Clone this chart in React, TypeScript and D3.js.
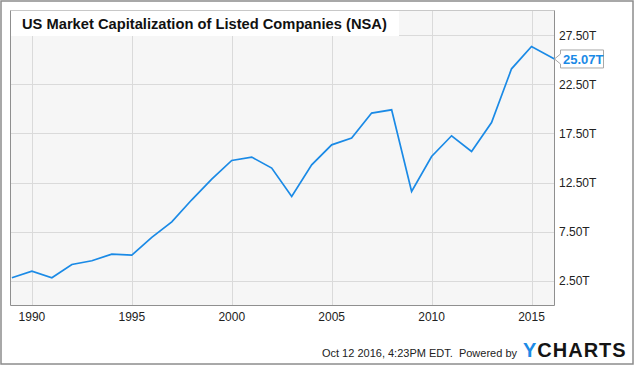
import { useRef, useEffect } from 'react';
import * as d3 from 'd3';

const years = [
  1989, 1990, 1991, 1992, 1993, 1994, 1995, 1996, 1997, 1998, 1999, 2000, 2001, 2002,
  2003, 2004, 2005, 2006, 2007, 2008, 2009, 2010, 2011, 2012, 2013, 2014, 2015, 2016.15,
];
const marketCap = [
  2.82, 3.5, 2.82, 4.17, 4.55, 5.23, 5.13, 6.92, 8.51, 10.75, 12.85, 14.75, 15.09, 13.97,
  11.09, 14.31, 16.34, 17.02, 19.57, 19.9, 11.59, 15.15, 17.26, 15.66, 18.61, 24.07, 26.34, 25.07,
];
const yTicks = [2.5, 7.5, 12.5, 17.5, 22.5, 27.5];
const xTicks = [1990, 1995, 2000, 2005, 2010, 2015];

const title = 'US Market Capitalization of Listed Companies (NSA)';
const footer = 'Oct 12 2016, 4:23PM EDT.  Powered by';

const WIDTH = 635;
const HEIGHT = 366;
const BLUE = '#1a8ae6';
const FONT = '"Liberation Sans", Arial, sans-serif';

export default function App() {
  const svgRef = useRef<SVGSVGElement>(null);

  useEffect(() => {
    if (!svgRef.current) return;
    const svg = d3.select(svgRef.current);
    svg.selectAll('*').remove();

    const plot = { left: 10.5, right: 554.5, top: 10.5, bottom: 305.5 };

    const x = d3.scaleLinear().domain([1988.93, 2016.15]).range([plot.left, plot.right]);
    const y = d3.scaleLinear().domain([0, 30]).range([plot.bottom, plot.top]);

    // outer frame
    svg.append('rect')
      .attr('x', 1).attr('y', 1)
      .attr('width', WIDTH - 3).attr('height', HEIGHT - 3)
      .attr('fill', '#fff')
      .attr('stroke', '#8c8c8c')
      .attr('stroke-width', 1.5);

    // plot background
    svg.append('rect')
      .attr('x', plot.left).attr('y', plot.top)
      .attr('width', plot.right - plot.left).attr('height', plot.bottom - plot.top)
      .attr('fill', '#f6f6f6');

    // grid
    const grid = svg.append('g').attr('stroke', '#dadada').attr('stroke-width', 1);
    for (const t of yTicks) {
      const yy = Math.round(y(t)) + 0.5;
      grid.append('line').attr('x1', plot.left).attr('x2', plot.right).attr('y1', yy).attr('y2', yy);
    }
    for (const t of xTicks) {
      const xx = Math.round(x(t)) + 0.5;
      grid.append('line').attr('x1', xx).attr('x2', xx).attr('y1', plot.top).attr('y2', plot.bottom);
    }

    // title box
    svg.append('rect')
      .attr('x', plot.left + 0.5).attr('y', plot.top + 0.5)
      .attr('width', 388).attr('height', 25)
      .attr('fill', '#fff');
    svg.append('text')
      .attr('x', 22).attr('y', 29)
      .attr('font-family', FONT).attr('font-size', 14.7).attr('font-weight', 'bold')
      .attr('fill', '#111')
      .text(title);

    // plot border
    svg.append('path')
      .attr('d', `M${plot.left},${plot.top}H${plot.right}`)
      .attr('stroke', '#c8c8c8').attr('fill', 'none');
    svg.append('path')
      .attr('d', `M${plot.left},${plot.top}V${plot.bottom}H${plot.right}V${plot.top}`)
      .attr('stroke', '#8f8f8f').attr('fill', 'none');

    // line
    const pts = years.map((yr, i) => [yr, marketCap[i]] as [number, number]);
    const line = d3.line<[number, number]>().x((d) => x(d[0])).y((d) => y(d[1]));
    svg.append('path')
      .datum(pts)
      .attr('d', line)
      .attr('fill', 'none')
      .attr('stroke', BLUE)
      .attr('stroke-width', 1.7)
      .attr('stroke-linejoin', 'miter');

    // y labels
    const fmt = (v: number) => `${v.toFixed(2)}T`;
    for (const t of yTicks) {
      svg.append('text')
        .attr('x', 559).attr('y', y(t) + 4.5)
        .attr('font-family', FONT).attr('font-size', 12).attr('fill', '#222')
        .text(fmt(t));
    }

    // x labels
    for (const t of xTicks) {
      svg.append('text')
        .attr('x', x(t)).attr('y', 321)
        .attr('text-anchor', 'middle')
        .attr('font-family', FONT).attr('font-size', 12).attr('fill', '#222')
        .text(String(t));
    }

    // last value callout
    const last = marketCap[marketCap.length - 1];
    const ly = y(last);
    const bx = 560.5, bw = 43, bh = 18;
    svg.append('path')
      .attr('d', `M${plot.right},${ly}L${bx},${ly - 5}V${ly - bh / 2}H${bx + bw}V${ly + bh / 2}H${bx}V${ly + 5}Z`)
      .attr('fill', '#fff')
      .attr('stroke', '#a8a8a8');
    svg.append('text')
      .attr('x', bx + 2.5).attr('y', ly + 5)
      .attr('font-family', FONT).attr('font-size', 13).attr('font-weight', 'bold')
      .attr('fill', BLUE)
      .text(fmt(last));

    // footer
    svg.append('text')
      .attr('x', 517).attr('y', 357)
      .attr('text-anchor', 'end')
      .attr('xml:space', 'preserve')
      .style('white-space', 'pre')
      .attr('font-family', FONT).attr('font-size', 11).attr('fill', '#222')
      .text(footer);
    const logo = svg.append('text')
      .attr('x', 523).attr('y', 357)
      .attr('font-family', FONT).attr('font-size', 20).attr('font-weight', 'bold')
      .attr('letter-spacing', 1);
    logo.append('tspan').attr('fill', '#1c8be6').text('Y');
    logo.append('tspan').attr('fill', '#141414').text('CHARTS');
  }, []);

  return (
    <svg
      ref={svgRef}
      width={WIDTH}
      height={HEIGHT}
      style={{ position: 'absolute', left: 0, top: 0, background: '#fff' }}
    />
  );
}
